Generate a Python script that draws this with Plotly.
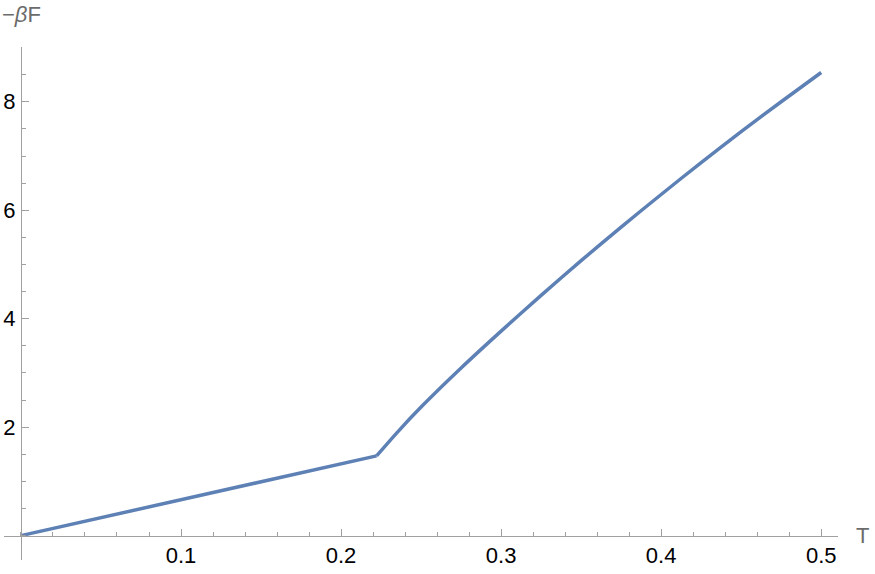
import plotly.graph_objects as go

# values
temperature = [0.0, 0.1, 0.2222, 0.235, 0.25, 0.275, 0.30, 0.325, 0.35, 0.375, 0.40, 0.425, 0.45, 0.475, 0.5]
neg_beta_f = [0.0, 0.66, 1.47, 1.90, 2.37, 3.09, 3.77, 4.43, 5.07, 5.69, 6.29, 6.88, 7.45, 8.00, 8.54]
kink = 2  # index of the transition point

x_ticks = [0.1, 0.2, 0.3, 0.4, 0.5]
y_ticks = [2, 4, 6, 8]

x_range = [-0.0106, 0.5105]
y_range = [-0.45, 9.01]

axis_grey = "#a0a0a0"
label_grey = "#6b6b6b"
line_blue = "#5E81B5"
font_family = "Liberation Sans, Arial, sans-serif"

fig = go.Figure()
# straight low-T branch
fig.add_trace(go.Scatter(
    x=temperature[:kink + 1], y=neg_beta_f[:kink + 1],
    mode="lines", line=dict(color=line_blue, width=3.5), hoverinfo="skip",
))
# smooth high-T branch
fig.add_trace(go.Scatter(
    x=temperature[kink:], y=neg_beta_f[kink:],
    mode="lines", line=dict(color=line_blue, width=3.5, shape="spline", smoothing=0.8),
    hoverinfo="skip",
))

# put axes through the origin like Mathematica does
x_pos = (0 - y_range[0]) / (y_range[1] - y_range[0])
y_pos = (0 - x_range[0]) / (x_range[1] - x_range[0])

fig.update_layout(
    width=875, height=574,
    margin=dict(l=4, r=37, t=47, b=14),
    paper_bgcolor="white", plot_bgcolor="white",
    showlegend=False,
    font=dict(family=font_family, size=22, color="black"),
    xaxis=dict(
        range=x_range, anchor="free", position=x_pos,
        showgrid=False, zeroline=False, automargin=False,
        showline=True, linecolor=axis_grey, linewidth=1,
        tickvals=x_ticks, ticktext=[f"{v:.1f}" for v in x_ticks],
        ticks="inside", ticklen=7, tickcolor=axis_grey, tickwidth=1,
        ticklabelstandoff=0,
        minor=dict(dtick=0.02, tick0=0, ticks="inside", ticklen=4, tickcolor=axis_grey),
        tickfont=dict(size=22, color="black"),
    ),
    yaxis=dict(
        range=y_range, anchor="free", position=y_pos,
        showgrid=False, zeroline=False, automargin=False,
        showline=True, linecolor=axis_grey, linewidth=1,
        tickvals=y_ticks, ticktext=[str(v) for v in y_ticks],
        ticks="inside", ticklen=7, tickcolor=axis_grey, tickwidth=1,
        ticklabelstandoff=1,
        minor=dict(dtick=0.5, tick0=0, ticks="inside", ticklen=4, tickcolor=axis_grey),
        tickfont=dict(size=22, color="black"),
    ),
    annotations=[
        dict(text="T", xref="paper", yref="y", x=1, y=0, xanchor="left", yanchor="middle",
             xshift=16, showarrow=False, font=dict(size=22, color=label_grey)),
        dict(text="\u2212<i>\u03b2</i>F", xref="paper", yref="paper", x=0, y=1,
             xanchor="left", yanchor="bottom", xshift=-4, yshift=18, showarrow=False,
             font=dict(size=22, color=label_grey)),
    ],
)

fig.write_html("out.html", config={"displayModeBar": False},
               post_script="document.body.style.margin='0';")
